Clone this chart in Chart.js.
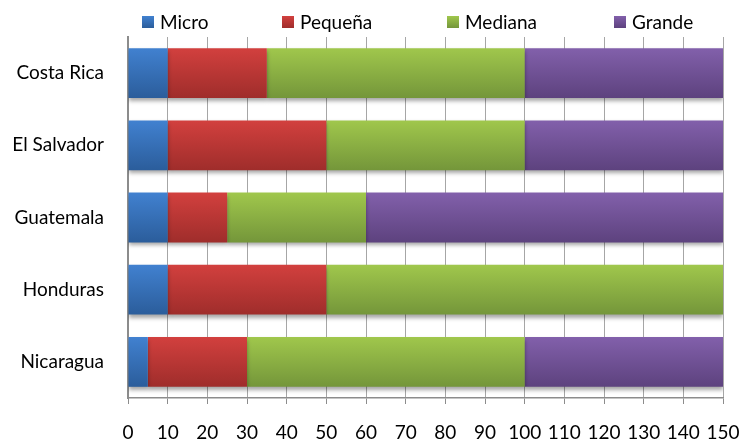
<!DOCTYPE html>
<html>
<head>
<meta charset="utf-8">
<script src="https://cdn.jsdelivr.net/npm/chart.js@4/dist/chart.umd.min.js"></script>
<style>
  html, body { margin: 0; padding: 0; background: #ffffff; }
  #wrap { width: 740px; height: 443px; position: relative; }
  #legend { position: absolute; top: 10px; left: 142px; display: flex; font-family: Lato, sans-serif; font-size: 19px; color: #000; }
  #legend .item { display: flex; align-items: center; }
  #legend .box { width: 12px; height: 12px; margin-right: 6px; }
</style>
</head>
<body>
<div id="wrap">
  <canvas id="chart"></canvas>
  <div id="legend"></div>
</div>
<script>
const countries = ["Costa Rica", "El Salvador", "Guatemala", "Honduras", "Nicaragua"];
const micro = [10, 10, 10, 10, 5];
const pequena = [25, 40, 15, 40, 25];
const mediana = [65, 50, 35, 100, 70];
const grande = [50, 50, 90, 0, 50];

const seriesNames = ["Micro", "Pequeña", "Mediana", "Grande"];
const topColors = ["#4181d0", "#d2403e", "#a0c74c", "#8260ab"];
const bottomColors = ["#2b5d9b", "#9f2d2b", "#74963a", "#5d427e"];
const midColors = ["#3a70b8", "#be3836", "#8cb043", "#6f5196"];
// legend item slot widths (Excel spreads them out)
const legendSlots = [140, 165, 167, 100];

const BAR_PCT = 0.69;

function barGradient(i) {
  return (ctx) => {
    const chart = ctx.chart;
    const y = chart.scales && chart.scales.y;
    if (ctx.type !== "data" || !y || !chart.chartArea) return midColors[i];
    const spacing = y.height / countries.length;
    const center = y.getPixelForValue(ctx.dataIndex);
    const half = spacing * BAR_PCT / 2;
    const g = chart.ctx.createLinearGradient(0, center - half, 0, center + half);
    g.addColorStop(0, topColors[i]);
    g.addColorStop(1, bottomColors[i]);
    return g;
  };
}

const shadowPlugin = {
  id: "barShadow",
  beforeDatasetsDraw(chart) {
    const c = chart.ctx;
    c.save();
    c.shadowColor = "rgba(0,0,0,0.35)";
    c.shadowBlur = 4;
    c.shadowOffsetX = 0;
    c.shadowOffsetY = 3;
  },
  afterDatasetsDraw(chart) {
    chart.ctx.restore();
  }
};

const legendDiv = document.getElementById("legend");
seriesNames.forEach((name, i) => {
  const item = document.createElement("div");
  item.className = "item";
  item.style.width = legendSlots[i] + "px";
  item.innerHTML = `<span class="box" style="background:linear-gradient(${topColors[i]}, ${bottomColors[i]})"></span><span>${name}</span>`;
  legendDiv.appendChild(item);
});

const seriesData = [micro, pequena, mediana, grande];

new Chart(document.getElementById("chart"), {
  type: "bar",
  data: {
    labels: countries,
    datasets: seriesNames.map((name, i) => ({
      label: name,
      data: seriesData[i],
      backgroundColor: barGradient(i),
      borderWidth: 0,
      categoryPercentage: 1,
      barPercentage: BAR_PCT
    }))
  },
  options: {
    indexAxis: "y",
    responsive: true,
    maintainAspectRatio: false,
    animation: false,
    layout: { padding: { top: 37, right: 17, bottom: 0, left: 0 } },
    plugins: {
      tooltip: { enabled: false },
      legend: { display: false }
    },
    scales: {
      x: {
        stacked: true,
        min: 0,
        max: 150,
        afterFit: (scale) => {
          scale.height = 45;
          scale.paddingLeft = 0;
          scale.paddingRight = 0;
        },
        ticks: {
          stepSize: 10,
          color: "#000000",
          padding: 17,
          maxRotation: 0,
          font: { family: "Lato", size: 19 }
        },
        grid: {
          color: "#a6a6a6",
          lineWidth: 1,
          borderDash: [2, 2],
          tickBorderDash: [],
          tickColor: "#8c8c8c",
          tickLength: 6
        },
        border: { display: true, color: "#8c8c8c", width: 1.5 }
      },
      y: {
        stacked: true,
        afterFit: (scale) => { scale.width = 128; },
        ticks: {
          color: "#000000",
          padding: 16,
          font: { family: "Lato", size: 19 }
        },
        grid: { display: false },
        border: { display: true, color: "#8c8c8c", width: 2 }
      }
    }
  },
  plugins: [shadowPlugin]
});
</script>
</body>
</html>
